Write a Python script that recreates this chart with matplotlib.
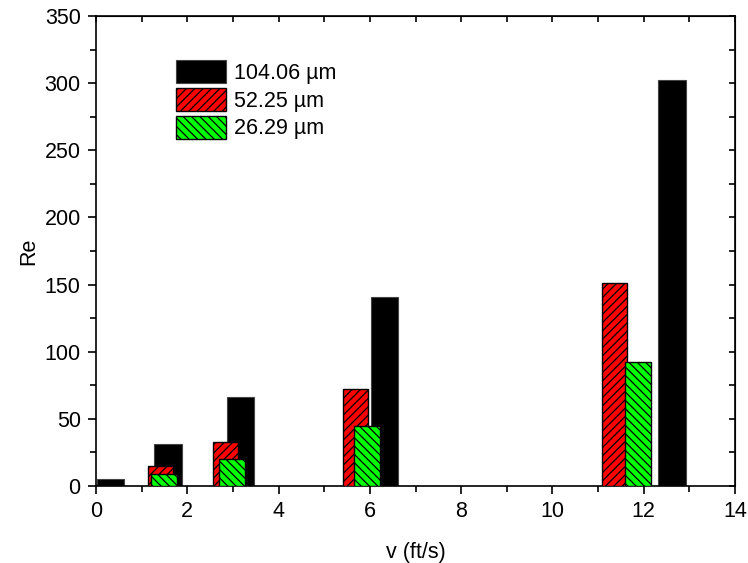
import matplotlib
matplotlib.use("Agg")
import matplotlib.pyplot as plt
from matplotlib.ticker import MultipleLocator

plt.rcParams['font.family'] = ['Liberation Sans', 'DejaVu Sans']
plt.rcParams['hatch.linewidth'] = 0.9

# Reynolds number vs. flow velocity for three particle diameters
labels = ['104.06 µm', '52.25 µm', '26.29 µm']
v_104 = [0.316, 1.58, 3.16, 6.32, 12.62]
re_104 = [5.2, 31.5, 66.5, 141, 302]
v_52 = [0.284, 1.42, 2.84, 5.68, 11.36]
re_52 = [1.0, 15, 32.5, 72.5, 151]
v_26 = [0.297, 1.49, 2.97, 5.94, 11.87]
re_26 = [1.0, 9, 20, 44.5, 92.5]

FS = 15.5

fig = plt.figure(figsize=(7.48, 5.63), dpi=100)
ax = fig.add_axes([96/748, 77/563, 639/748, 470/563])

ax.bar(v_104, re_104, width=0.6, color='black', edgecolor='#444444',
       linewidth=0.8, label=labels[0], zorder=2)
ax.bar(v_52, re_52, width=0.55, color='#ff0000', edgecolor='black',
       linewidth=1.0, hatch='////', label=labels[1], zorder=3)
ax.bar(v_26, re_26, width=0.57, color='#00ff00', edgecolor='black',
       linewidth=1.0, hatch='\\\\\\\\', label=labels[2], zorder=4)

ax.set_xlim(0, 14)
ax.set_ylim(0, 350)
ax.xaxis.set_major_locator(MultipleLocator(2))
ax.xaxis.set_minor_locator(MultipleLocator(1))
ax.yaxis.set_major_locator(MultipleLocator(50))
ax.yaxis.set_minor_locator(MultipleLocator(25))

ax.tick_params(axis='both', which='major', direction='out', length=6, width=1.2,
               labelsize=FS, pad=5)
ax.tick_params(axis='both', which='minor', direction='out', length=4, width=1.2)
for s in ax.spines.values():
    s.set_linewidth(1.2)

# Inward ticks on the top and right spines
top = ax.secondary_xaxis('top')
top.xaxis.set_major_locator(MultipleLocator(2))
top.xaxis.set_minor_locator(MultipleLocator(1))
top.tick_params(which='both', direction='in', length=4, width=1.2, labeltop=False)
right = ax.secondary_yaxis('right')
right.yaxis.set_major_locator(MultipleLocator(50))
right.yaxis.set_minor_locator(MultipleLocator(25))
right.tick_params(which='both', direction='in', length=4, width=1.2, labelright=False)

ax.set_xlabel('v (ft/s)', fontsize=FS, labelpad=14)
ax.set_ylabel('Re', fontsize=FS, labelpad=4)

ax.legend(loc='upper left', bbox_to_anchor=(176/748, 1 - 60/563),
          bbox_transform=fig.transFigure, frameon=False, fontsize=FS,
          handlelength=2.33, handleheight=1.25, handletextpad=0.36,
          labelspacing=0.2, borderpad=0, borderaxespad=0)

fig.savefig('out.png', dpi=100)
